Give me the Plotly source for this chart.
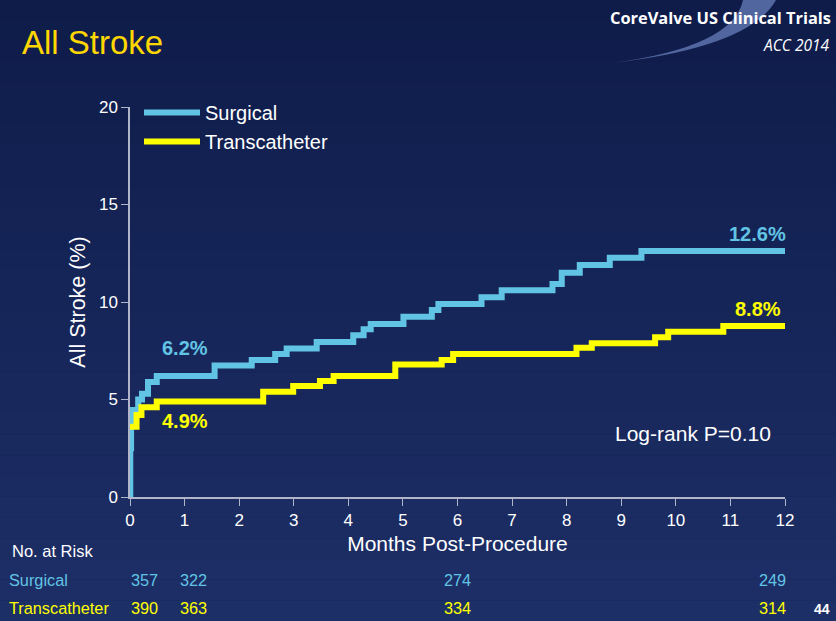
import plotly.graph_objects as go

# ---------------- data ----------------
surg_t = [0, 0.005, 0.02, 0.05, 0.15, 0.22, 0.33, 0.49, 1.55, 2.23, 2.66, 2.87, 3.42,
          4.09, 4.28, 4.41, 5.01, 5.53, 5.65, 6.44, 6.81, 7.74, 7.91, 8.24, 8.79, 9.37, 12]
surg_v = [0, 2.5, 3.9, 4.46, 5.0, 5.3, 5.9, 6.2, 6.75, 7.03, 7.33, 7.62, 7.95,
          8.3, 8.6, 8.87, 9.25, 9.59, 9.9, 10.24, 10.6, 10.92, 11.5, 11.9, 12.27, 12.62, 12.62]
tavr_t = [0, 0.12, 0.21, 0.49, 2.44, 2.99, 3.48, 3.73, 4.86, 5.71, 5.92, 8.18, 8.46,
          9.62, 9.86, 10.87, 12]
tavr_v = [3.6, 4.2, 4.6, 4.9, 5.4, 5.69, 5.95, 6.2, 6.79, 7.03, 7.33, 7.66, 7.88,
          8.19, 8.48, 8.77, 8.77]

series_names = ["Surgical", "Transcatheter"]
risk_months = [0, 1, 6, 12]
risk_surg = [357, 322, 274, 249]
risk_tavr = [390, 363, 334, 314]
end_labels = [("6.2%", 1.0, 6.2), ("4.9%", 1.0, 4.9), ("12.6%", 11.5, 12.6), ("8.8%", 11.5, 8.8)]
x_ticks = list(range(0, 13))
y_ticks = [0, 5, 10, 15, 20]

# ---------------- styling ----------------
CYAN = "#62C4E4"
YEL = "#FFFF00"
W, H = 836, 621
L, R, T, B = 130, 51, 107, 124
PW, PH = W - L - R, H - T - B


def px(x):
    return (x - L) / PW


def py(y):
    return (H - B - y) / PH


fig = go.Figure()
fig.add_trace(go.Scatter(x=surg_t, y=surg_v, mode="lines", name=series_names[0],
                         line=dict(color=CYAN, width=6, shape="hv")))
fig.add_trace(go.Scatter(x=tavr_t, y=tavr_v, mode="lines", name=series_names[1],
                         line=dict(color=YEL, width=6, shape="hv")))

shapes = []
# background gradient bands
top = (15, 28, 74)
bot = (29, 47, 103)
n = 30
for i in range(n):
    f = i / (n - 1)
    c = tuple(round(top[k] + (bot[k] - top[k]) * f) for k in range(3))
    shapes.append(dict(type="rect", xref="paper", yref="paper", layer="below",
                       x0=px(0), x1=px(W), y0=py(H * (i + 1) / n), y1=py(H * i / n),
                       fillcolor="rgb(%d,%d,%d)" % c, line=dict(width=0)))

# swoosh at top right
pts = [(743, 0), (733, 47), (612, 63), (750, 47), (776, 0)]
path = "M %f,%f Q %f,%f %f,%f Q %f,%f %f,%f Z" % (
    px(pts[0][0]), py(pts[0][1]), px(pts[1][0]), py(pts[1][1]), px(pts[2][0]), py(pts[2][1]),
    px(pts[3][0]), py(pts[3][1]), px(pts[4][0]), py(pts[4][1]))
shapes.append(dict(type="path", xref="paper", yref="paper", path=path, layer="below",
                   fillcolor="rgba(125,150,215,0.6)", line=dict(width=0)))

ann = []
font = "Liberation Sans, Arial, sans-serif"
ann.append(dict(text="All Stroke", x=px(20), y=py(43), xref="paper", yref="paper",
                xanchor="left", yanchor="middle", showarrow=False,
                font=dict(family=font, size=33, color="#FFD700")))
ann.append(dict(text="<b>CoreValve US Clinical Trials</b>", x=px(833), y=py(18), xref="paper",
                yref="paper", xanchor="right", yanchor="middle", showarrow=False,
                font=dict(family="Open Sans, sans-serif", size=16.4, color="white")))
ann.append(dict(text="<i>ACC 2014</i>", x=px(832), y=py(45), xref="paper",
                yref="paper", xanchor="right", yanchor="middle", showarrow=False,
                font=dict(family="Open Sans, sans-serif", size=15.5, color="white")))

for (txt, xm, yv), col, up in zip(end_labels, [CYAN, YEL, CYAN, YEL], [28, -20, 17, 16]):
    ann.append(dict(text="<b>%s</b>" % txt, x=xm, y=yv, xref="x", yref="y",
                    xanchor="center", yanchor="middle", yshift=up, showarrow=False,
                    font=dict(family=font, size=20, color=col)))

ann.append(dict(text="Log-rank P=0.10", x=px(693), y=py(433), xref="paper", yref="paper",
                xanchor="center", yanchor="middle", showarrow=False,
                font=dict(family=font, size=21, color="white")))

ann.append(dict(text="No. at Risk", x=px(10), y=py(551), xref="paper", yref="paper",
                xanchor="left", yanchor="middle", showarrow=False,
                font=dict(family=font, size=16.5, color="white")))
ann.append(dict(text=series_names[0], x=px(7), y=py(580), xref="paper", yref="paper",
                xanchor="left", yanchor="middle", showarrow=False,
                font=dict(family=font, size=16.3, color=CYAN)))
ann.append(dict(text=series_names[1], x=px(7), y=py(608), xref="paper", yref="paper",
                xanchor="left", yanchor="middle", showarrow=False,
                font=dict(family=font, size=16.3, color=YEL)))
shifts = [14, 9, 0, -13]
for m, s, tv, sh in zip(risk_months, risk_surg, risk_tavr, shifts):
    ann.append(dict(text=str(s), x=m, y=py(580), xref="x", yref="paper", xshift=sh,
                    xanchor="center", yanchor="middle", showarrow=False,
                    font=dict(family=font, size=16.3, color=CYAN)))
    ann.append(dict(text=str(tv), x=m, y=py(608), xref="x", yref="paper", xshift=sh,
                    xanchor="center", yanchor="middle", showarrow=False,
                    font=dict(family=font, size=16.3, color=YEL)))
ann.append(dict(text="<b>44</b>", x=px(822), y=py(609), xref="paper", yref="paper",
                xanchor="center", yanchor="middle", showarrow=False,
                font=dict(family=font, size=14, color="white")))

AX = "#B0B5C9"
fig.update_layout(
    width=W, height=H,
    margin=dict(l=L, r=R, t=T, b=B),
    paper_bgcolor="#13214f", plot_bgcolor="rgba(0,0,0,0)",
    shapes=shapes, annotations=ann,
    font=dict(family=font, color="white"),
    legend=dict(x=px(139), y=py(93), xanchor="left", yanchor="top",
                bgcolor="rgba(0,0,0,0)", font=dict(size=20, color="white"),
                itemwidth=56, tracegroupgap=0),
    xaxis=dict(range=[0, 12], tickvals=x_ticks, showgrid=False, zeroline=False,
               showline=True, linecolor=AX, linewidth=1.5, ticks="outside", tickcolor=AX,
               ticklen=7, tickfont=dict(size=17, color="white"),
               title=dict(text="Months Post-Procedure", font=dict(size=21, color="white"), standoff=7)),
    yaxis=dict(range=[0, 20], tickvals=y_ticks, showgrid=False, zeroline=False,
               showline=True, linecolor=AX, linewidth=1.5, ticks="outside", tickcolor=AX,
               ticklen=7, tickfont=dict(size=17, color="white"),
               title=dict(text="All Stroke (%)", font=dict(size=21.5, color="white"), standoff=7)),
)

fig.write_html("out.html", config={"displayModeBar": False},
               post_script="document.body.style.margin='0';document.body.style.overflow='hidden';"
                           "document.documentElement.style.overflow='hidden';")
